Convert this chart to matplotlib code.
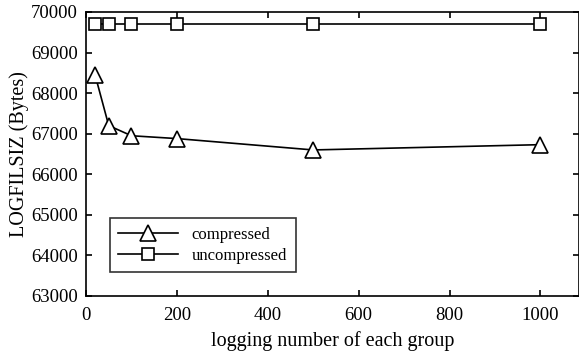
import matplotlib
matplotlib.use("Agg")
import matplotlib.pyplot as plt

# logging number per group vs. log file size
group_sizes = [20, 50, 100, 200, 500, 1000]
compressed = [68450, 67200, 66950, 66880, 66600, 66730]
uncompressed = [69700, 69700, 69700, 69700, 69700, 69700]

plt.rcParams["font.family"] = ["Liberation Serif", "DejaVu Serif"]
plt.rcParams["font.size"] = 12

fig = plt.figure(figsize=(5.79, 3.56), dpi=100)
ax = fig.add_axes([86 / 579, 60 / 356, 493 / 579, 284 / 356])

ax.plot(group_sizes, compressed, color="black", lw=1.2, marker="^",
        markersize=11, markerfacecolor="white", markeredgecolor="black",
        markeredgewidth=1.2, label="compressed")
ax.plot(group_sizes, uncompressed, color="black", lw=1.2, marker="s",
        markersize=8, markerfacecolor="white", markeredgecolor="black",
        markeredgewidth=1.2, label="uncompressed")

ax.set_xlim(0, 1085)
ax.set_ylim(63000, 70000)
ax.set_xticks([0, 200, 400, 600, 800, 1000])
ax.set_yticks(range(63000, 70001, 1000))
ax.tick_params(direction="in", top=True, right=True, length=4, width=1.2,
               labelsize=13.5)
ax.tick_params(axis="x", pad=8)
ax.tick_params(axis="y", pad=6)
for sp in ax.spines.values():
    sp.set_linewidth(1.2)

ax.set_xlabel("logging number of each group", fontsize=14.5, labelpad=5)
ax.set_ylabel("LOGFILSIZ (Bytes)", fontsize=14.5, labelpad=1)

leg = ax.legend(loc="lower left", bbox_to_anchor=(0.049, 0.085), frameon=True,
                fancybox=False, edgecolor="black", fontsize=12,
                handlelength=3.6, borderpad=0.5, labelspacing=0.3,
                borderaxespad=0)
leg.get_frame().set_linewidth(1.2)

fig.savefig("out.png", dpi=100)
